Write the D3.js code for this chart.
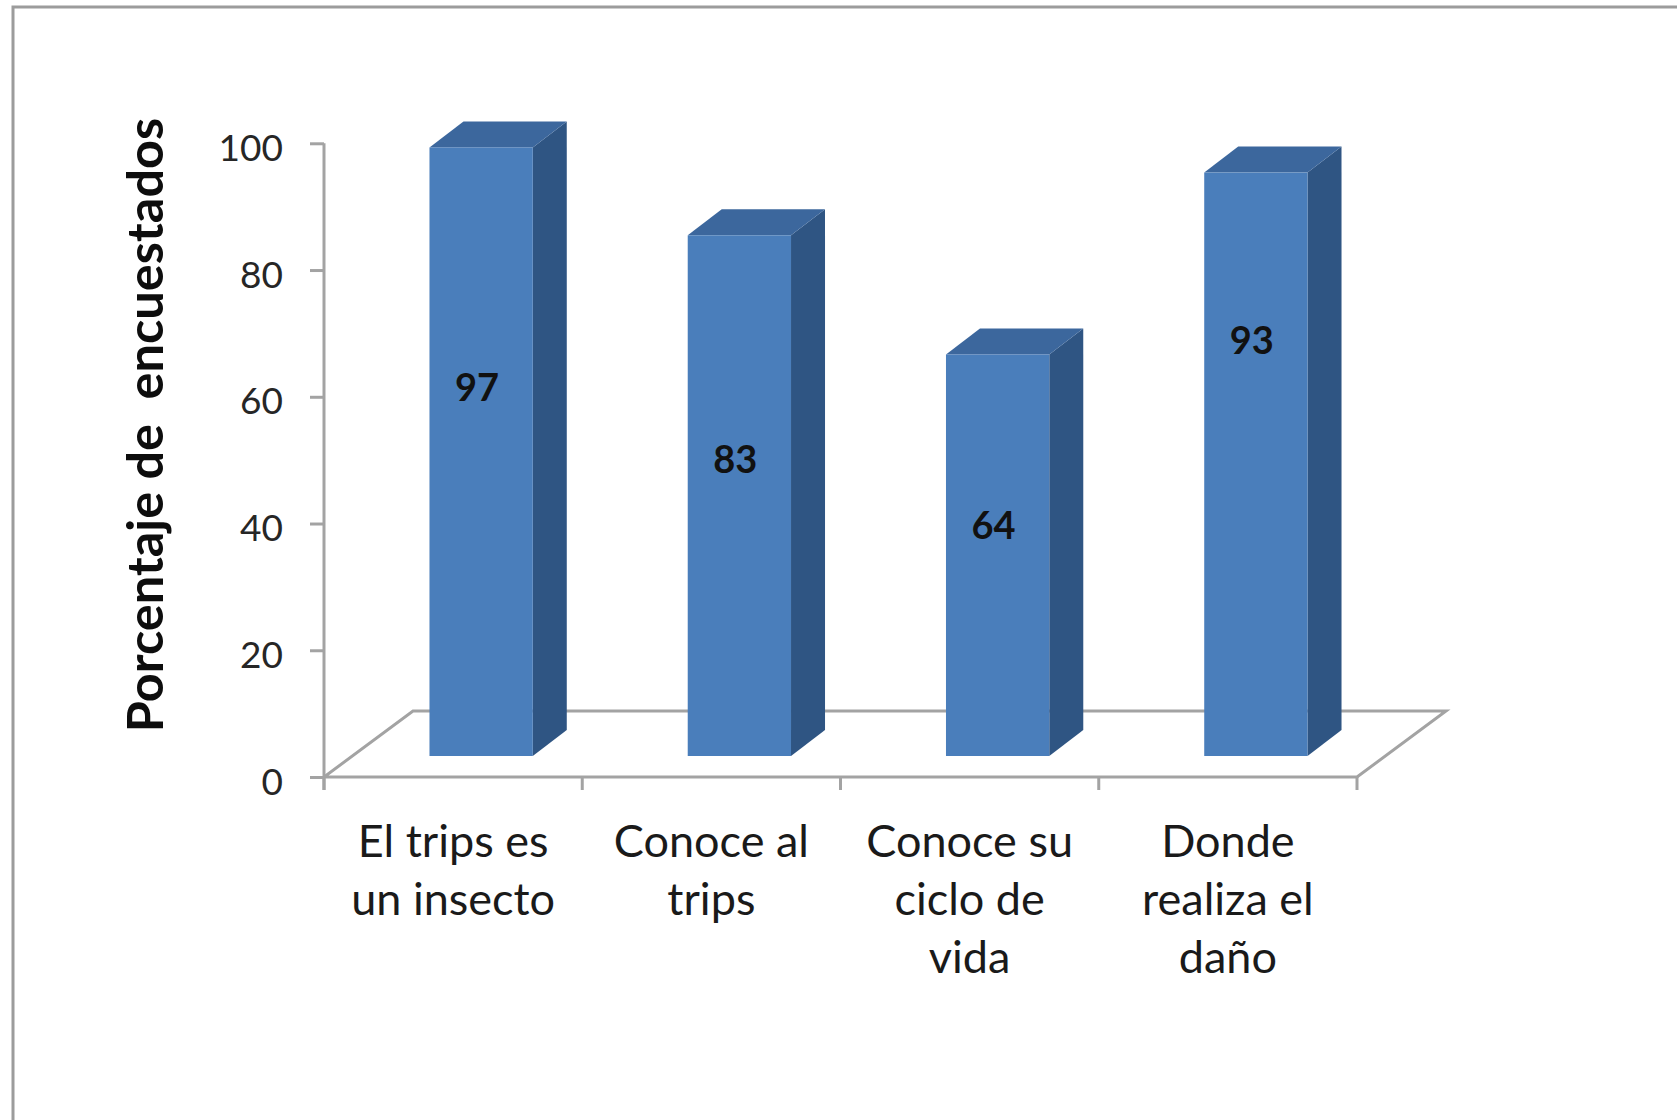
<!DOCTYPE html>
<html>
<head>
<meta charset="utf-8">
<script src="https://cdn.jsdelivr.net/npm/d3@7"></script>
<style>
  html, body { margin: 0; padding: 0; background: #fff; }
  svg { display: block; }
  text { font-family: Lato, "Noto Sans", sans-serif; }
</style>
</head>
<body>
<script>
// Survey results: share of respondents per question
const categories = [
  ["El trips es", "un insecto"],
  ["Conoce al", "trips"],
  ["Conoce su", "ciclo de", "vida"],
  ["Donde", "realiza el", "daño"]
];
const values = [97, 83, 64, 93];
const valueLabels = ["97", "83", "64", "93"];
// height (in axis units) at which each value label sits on its column
const labelLevels = [59, 47.5, 37, 66.5];
const yTicks = [0, 20, 40, 60, 80, 100];
const yTitle = "Porcentaje de\u00a0 encuestados";

const W = 1677, H = 1120;
const svg = d3.select("body").append("svg").attr("width", W).attr("height", H);
svg.append("rect").attr("width", W).attr("height", H).attr("fill", "#fff");

// outer frame (top and left edges)
svg.append("path")
  .attr("d", "M13,1120 L13,7 L1677,7")
  .attr("fill", "none").attr("stroke", "#9c9c9c").attr("stroke-width", 3);

// plot geometry
const x0 = 324, x1 = 1357;
const yBase = 777, yTop = 143.3;
const depth = { dx: 89, dy: -66 };            // floor depth
const front = { dx: 28, dy: -21 };            // columns' front plane
const colDepth = { dx: 34, dy: -26 };         // column thickness
const planeShrink = 0.99;                     // value scale on the columns' plane

const keys = categories.map((c, i) => i);
const x = d3.scaleBand().domain(keys).range([x0, x1]).paddingInner(0.6).paddingOuter(0.3);
const y = d3.scaleLinear().domain([0, 100]).range([yBase, yTop]);
// same scale, seen on the plane where the columns stand
const yCol = d3.scaleLinear().domain([0, 100])
  .range([yBase + front.dy, yBase + front.dy - (yBase - yTop) * planeShrink]);

const axisColor = "#a3a3a3";

// floor outline
const floor = [
  [x0, yBase], [x1, yBase],
  [x1 + depth.dx, yBase + depth.dy], [x0 + depth.dx, yBase + depth.dy]
];
svg.append("path")
  .attr("d", d3.line()(floor) + "Z")
  .attr("fill", "none").attr("stroke", axisColor).attr("stroke-width", 3)
  .attr("stroke-linejoin", "miter");

// category separators below the floor
const step = x.step();
d3.range(categories.length + 1).forEach(i => {
  const xi = x0 + i * step;
  svg.append("line")
    .attr("x1", xi).attr("x2", xi).attr("y1", yBase).attr("y2", yBase + 13)
    .attr("stroke", axisColor).attr("stroke-width", 3);
});

// value axis
const yAxis = svg.append("g")
  .attr("transform", `translate(${x0},0)`)
  .call(d3.axisLeft(y).tickValues(yTicks).tickSizeInner(14).tickSizeOuter(0).tickPadding(27));
yAxis.select(".domain").attr("stroke", axisColor).attr("stroke-width", 3)
  .attr("d", `M0,${yBase + 13}V${yTop}`);
yAxis.selectAll(".tick line").attr("stroke", axisColor).attr("stroke-width", 3);
yAxis.selectAll(".tick text")
  .attr("font-family", "Lato, sans-serif").attr("font-size", 37)
  .attr("fill", "#262626").attr("dy", "0.46em");

// columns
const colors = { front: "#4a7ebb", side: "#2f5583", top: "#3c679d" };
const bars = svg.append("g").selectAll("g").data(values).join("g");
bars.each(function (v, i) {
  const g = d3.select(this);
  const bx = x(i) + front.dx;
  const bw = x.bandwidth();
  const yt = yCol(v);
  const yb = yCol(0);
  const d = colDepth;
  // side face
  g.append("path")
    .attr("d", d3.line()([[bx + bw, yt], [bx + bw + d.dx, yt + d.dy], [bx + bw + d.dx, yb + d.dy], [bx + bw, yb]]) + "Z")
    .attr("fill", colors.side);
  // top face
  g.append("path")
    .attr("d", d3.line()([[bx, yt], [bx + d.dx, yt + d.dy], [bx + bw + d.dx, yt + d.dy], [bx + bw, yt]]) + "Z")
    .attr("fill", colors.top);
  // front face
  g.append("rect")
    .attr("x", bx).attr("y", yt).attr("width", bw).attr("height", yb - yt)
    .attr("fill", colors.front);
  // value label
  g.append("text")
    .attr("x", bx + bw / 2 - 4)
    .attr("y", yCol(labelLevels[i]))
    .attr("text-anchor", "middle").attr("dominant-baseline", "central")
    .attr("font-weight", 700).attr("font-size", 38).attr("fill", "#111")
    .text(valueLabels[i]);
});

// category labels
const catG = svg.append("g");
categories.forEach((lines, i) => {
  const t = catG.append("text")
    .attr("x", x(i) + x.bandwidth() / 2)
    .attr("y", 857)
    .attr("text-anchor", "middle")
    .attr("font-size", 45).attr("fill", "#1a1a1a");
  lines.forEach((ln, j) => {
    t.append("tspan").attr("x", x(i) + x.bandwidth() / 2).attr("y", 857 + j * 58).text(ln);
  });
});

// value axis title
svg.append("text")
  .attr("transform", "translate(163,425) rotate(-90)")
  .attr("text-anchor", "middle")
  .attr("font-weight", 700).attr("font-size", 50.5).attr("fill", "#0d0d0d")
  .text(yTitle);
</script>
</body>
</html>
